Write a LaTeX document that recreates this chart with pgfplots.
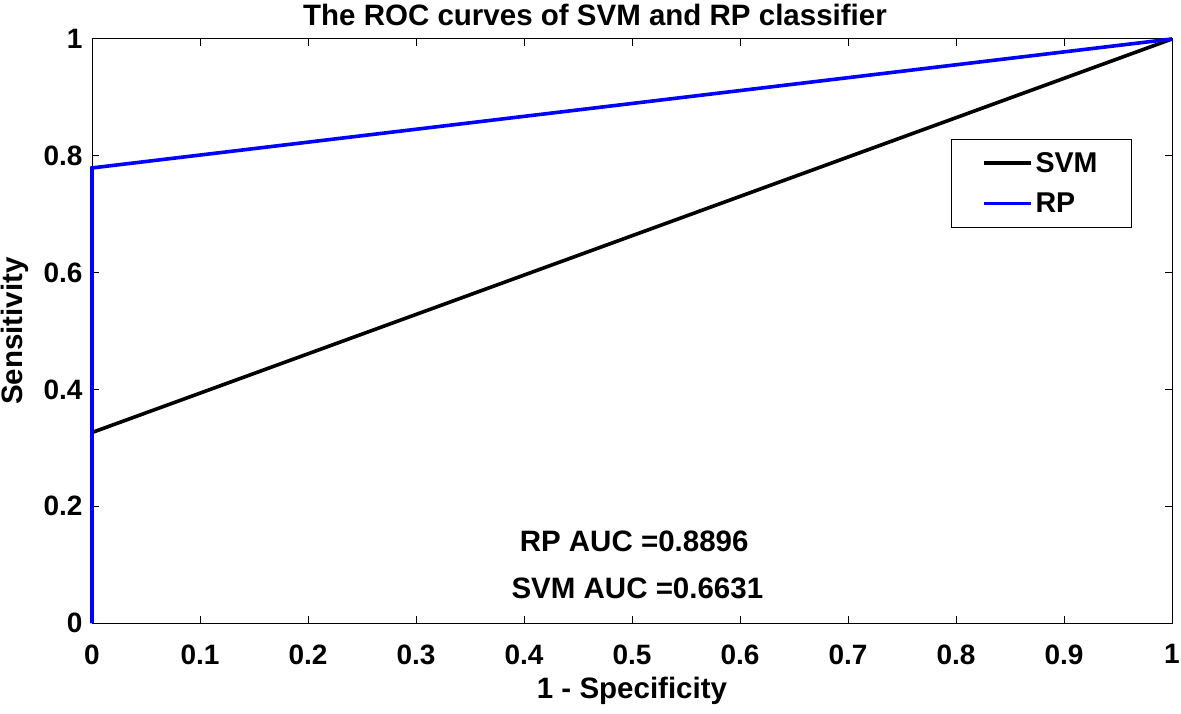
\documentclass[border=0pt]{standalone}
\usepackage{fontspec}
\setmainfont{Liberation Sans}
\usepackage{pgfplots}
\pgfplotsset{compat=1.18}
\begin{document}
\begin{tikzpicture}
\begin{axis}[
  scale only axis,
  width=1080pt, height=584pt,
  xmin=0, xmax=1, ymin=0, ymax=1,
  clip=false,
  xtick={0,0.1,...,1.0}, ytick={0,0.2,...,1.0},
  xticklabels={0,0.1,0.2,0.3,0.4,0.5,0.6,0.7,0.8,0.9,1},
  yticklabels={0,0.2,0.4,0.6,0.8,1},
  tick align=inside, major tick length=7pt,
  axis line style={line width=1pt}, tick style={line width=1pt,black},
  ticklabel style={font=\fontsize{28}{32}\selectfont\bfseries},
  /pgf/number format/assume math mode=true,
  xticklabel style={yshift=-18pt},
  yticklabel style={xshift=-6pt},
  title={The ROC curves of SVM and RP classifier},
  title style={font=\fontsize{29.5}{34}\selectfont\bfseries, yshift=4pt, xshift=-37pt},
  xlabel={1 - Specificity},
  ylabel={Sensitivity},
  xlabel style={font=\fontsize{29.5}{34}\selectfont\bfseries, yshift=-6pt},
  ylabel style={font=\fontsize{29.5}{34}\selectfont\bfseries, yshift=8pt},
  legend style={at={(0.795,0.829)}, anchor=north west, draw=black, line width=1pt,
    font=\fontsize{28.6}{33}\selectfont\bfseries, inner xsep=31pt, inner ysep=10pt,
    row sep=13pt, nodes={inner sep=3pt}},
  legend cell align=left,
  legend image code/.code={\draw[#1, line width=3.4pt] (0pt,0pt) -- (47pt,0pt);},
]
\addplot[black, line width=3.6pt] coordinates {(0,0) (0,0.3262) (1,1)};
\addlegendentry{SVM}
\addplot[blue, line width=3.6pt] coordinates {(0,0) (0,0.7792) (1,1)};
\addlegendentry{RP}
\node[font=\fontsize{29.5}{34}\selectfont\bfseries] at (axis description cs:0.502,0.139) {RP AUC =0.8896};
\node[font=\fontsize{29.5}{34}\selectfont\bfseries] at (axis description cs:0.505,0.060) {SVM AUC =0.6631};
\end{axis}
\pgfresetboundingbox
\path (current axis.south west) ++(-92pt,-90pt) coordinate (bl);
\path (current axis.north east) ++(9pt,39pt) coordinate (tr);
\useasboundingbox (bl) rectangle (tr);
\end{tikzpicture}
\end{document}
